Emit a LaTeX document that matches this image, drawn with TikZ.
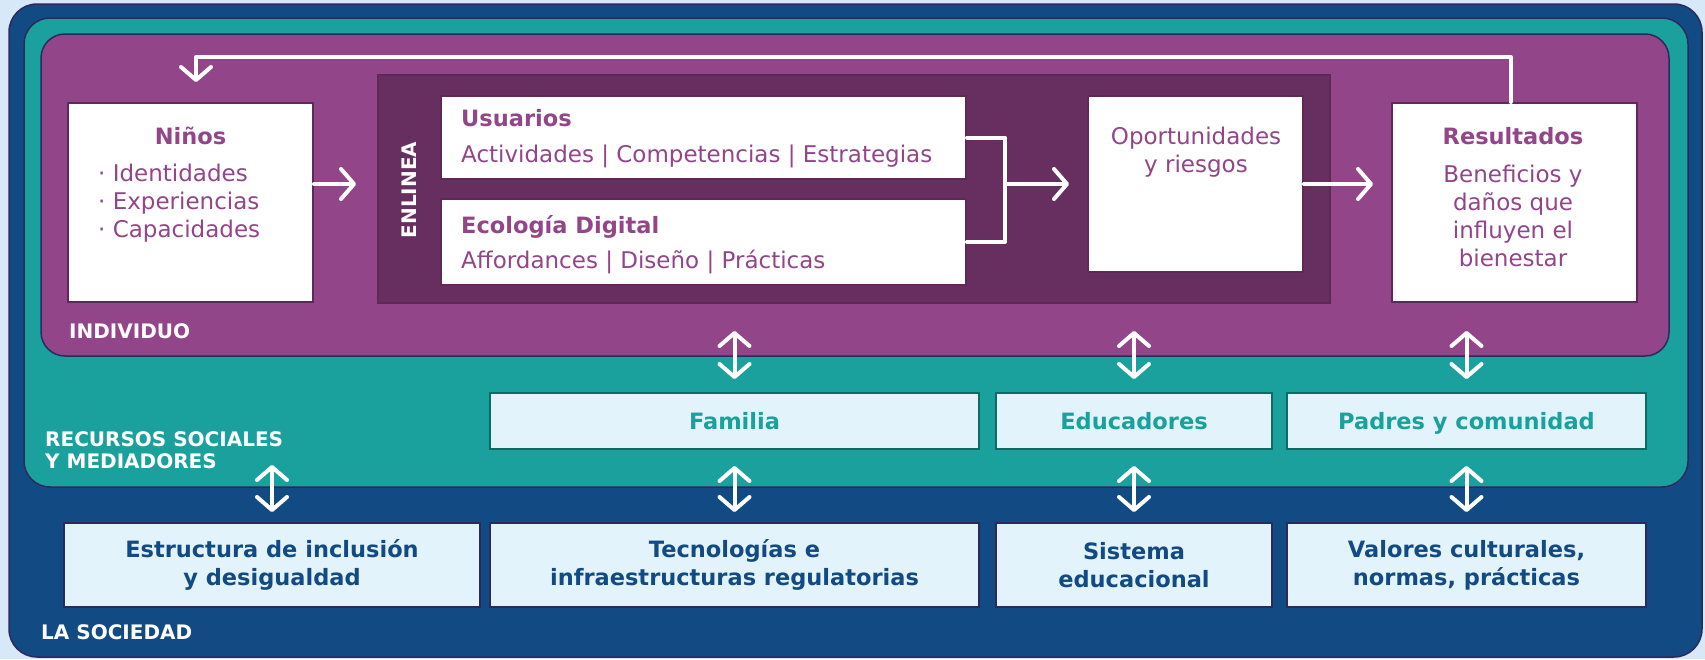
\documentclass[tikz,border=0pt]{standalone}
\usepackage{fontspec}
\setmainfont{DejaVu Sans}
\usetikzlibrary{arrows.meta}

\definecolor{bgblue}{HTML}{D7E9F8}
\definecolor{socblue}{HTML}{124B83}
\definecolor{medteal}{HTML}{1AA19E}
\definecolor{indpurple}{HTML}{93458A}
\definecolor{onlpurple}{HTML}{672E60}
\definecolor{boxpale}{HTML}{E3F3FC}
\definecolor{navyline}{HTML}{2B2A5E}
\definecolor{tealline}{HTML}{0E6B64}
\definecolor{purpline}{HTML}{5E2857}

\tikzset{
  barb/.tip={Straight Barb[length=13pt,width=30pt,round]},
  conn/.style={white, line width=4pt, line cap=round, line join=round},
  body/.style={inner sep=0pt, font=\fontsize{23}{28}\selectfont},
  ttl/.style={inner sep=0pt, font=\fontsize{22.5}{28}\selectfont\bfseries},
  lbl/.style={white, inner sep=0pt, font=\fontsize{20}{22}\selectfont\bfseries},
  wbox/.style={draw=purpline, line width=2pt, fill=white},
  medbox/.style={draw=tealline, line width=2pt, fill=boxpale, text=medteal,
    font=\fontsize{22.5}{28}\selectfont\bfseries, minimum height=56pt,
    text height=16.4pt, text depth=0pt},
  socbox/.style={draw=navyline, line width=2pt, fill=boxpale, text=socblue, align=center,
    font=\fontsize{22.5}{28}\selectfont\bfseries, minimum height=84pt}
}

\begin{document}
\begin{tikzpicture}[x=1pt, y=-1pt]
  \useasboundingbox (0,0) rectangle (1705,659);
  \fill[bgblue] (0,0) rectangle (1705,659);

  % nested levels
  \draw[navyline, fill=socblue, line width=1.5pt, rounded corners=28pt] (9,4) rectangle (1702,657);
  \draw[navyline, fill=medteal, line width=1.5pt, rounded corners=26pt] (24,18) rectangle (1688,487);
  \draw[navyline, fill=indpurple, line width=1.5pt, rounded corners=24pt] (41,34) rectangle (1669,356);

  % individual level
  \node[wbox, minimum width=245pt, minimum height=199pt] (nin) at (190.5,202.5) {};
  \node[ttl, text=indpurple] (nint) at (190.5,136) {Niños};
  \node[body, text=indpurple, anchor=west, align=left] (ninl) at (98,203)
    {· Identidades\\· Experiencias\\· Capacidades};

  \node[draw=purpline, fill=onlpurple, line width=2pt, minimum width=952pt, minimum height=228pt] (onl) at (854,189) {};
  \node[lbl, rotate=90] (enl) at (409,190) {ENLINEA};

  \node[wbox, minimum width=525pt, minimum height=83pt] (usr) at (703.5,137.5) {};
  \node[ttl, text=indpurple, anchor=west] (usrt) at (461,118) {Usuarios};
  \node[body, text=indpurple, anchor=west] (usrl) at (461,156) {Actividades | Competencias | Estrategias};

  \node[wbox, minimum width=525pt, minimum height=86pt] (eco) at (703.5,242) {};
  \node[ttl, text=indpurple, anchor=west] (ecot) at (461,227) {Ecología Digital};
  \node[body, text=indpurple, anchor=west] (ecol) at (461,262) {Affordances | Diseño | Prácticas};

  \node[wbox, minimum width=215pt, minimum height=176pt] (opo) at (1195.5,184) {};
  \node[body, text=indpurple, align=center] (opol) at (1196,152) {Oportunidades\\y riesgos};

  \node[wbox, minimum width=245pt, minimum height=199pt] (res) at (1514.5,202.5) {};
  \node[ttl, text=indpurple] (rest) at (1513,136) {Resultados};
  \node[body, text=indpurple, align=center] (resl) at (1513,216)
    {Beneficios y\\daños que\\influyen el\\bienestar};

  \node[lbl, anchor=west] (ind) at (69,331) {INDIVIDUO};

  % social resources and mediators
  \node[medbox, minimum width=489pt] (fam) at (734.5,421) {Familia};
  \node[medbox, minimum width=276pt] (edu) at (1134,421) {Educadores};
  \node[medbox, minimum width=359pt] (pad) at (1466.5,421) {Padres y comunidad};
  \node[lbl, anchor=west, align=left] (rsm) at (45,450) {RECURSOS SOCIALES\\Y MEDIADORES};

  % society
  \node[socbox, minimum width=416pt] (est) at (272,565) {Estructura de inclusión\\y desigualdad};
  \node[socbox, minimum width=489pt] (tec) at (734.5,565) {Tecnologías e\\infraestructuras regulatorias};
  \node[socbox, minimum width=276pt] (sis) at (1134,565) {Sistema\\educacional};
  \node[socbox, minimum width=359pt] (val) at (1466.5,565) {Valores culturales,\\normas, prácticas};
  \node[lbl, anchor=west] (soc) at (41,632) {LA SOCIEDAD};

  % flow
  \coordinate (mrg) at (1005,186);
  \coordinate (fbk) at (196,57);
  \draw[conn, -barb, shorten >=21pt] (nin.east |- opo.west) -- (onl.west |- opo.west);
  \draw[conn] (usr.east) -- (usr.east -| mrg) -- (eco.east -| mrg) -- (eco.east);
  \draw[conn, -barb, shorten >=18pt] (mrg |- opo.west) -- (opo.west);
  \draw[conn, -barb, shorten >=18pt] (opo.east) -- (res.west |- opo.east);
  \draw[conn, -barb, shorten >=20pt] ([xshift=-4pt]res.north) |- (fbk) -- (fbk |- nin.north);

  % links between levels
  \foreach \b in {fam, edu, pad}
    \draw[conn, barb-barb] ([yshift=13pt]\b.north) -- ([yshift=61pt]\b.north);
  \draw[conn, barb-barb] ([yshift=10pt]est.north) -- ([yshift=57pt]est.north);
  \draw[conn, barb-barb] (fam.south) ++(0,16) -- ([yshift=10pt]tec.north);
  \draw[conn, barb-barb] (edu.south) ++(0,16) -- ([yshift=10pt]sis.north);
  \draw[conn, barb-barb] (pad.south) ++(0,16) -- ([yshift=10pt]val.north);
\end{tikzpicture}
\end{document}
